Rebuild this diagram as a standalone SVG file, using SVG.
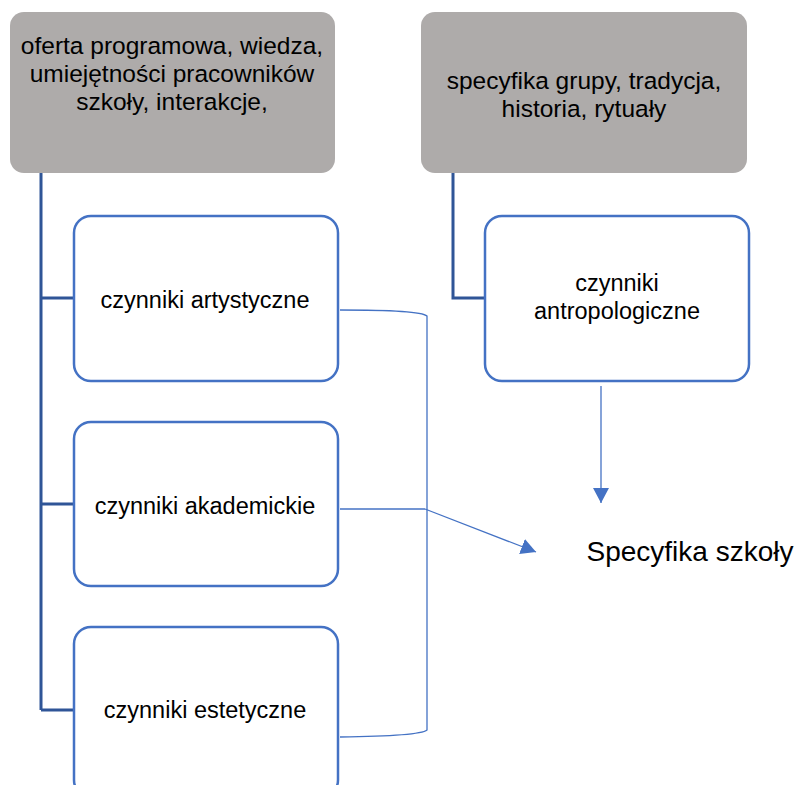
<svg xmlns="http://www.w3.org/2000/svg" width="794" height="785" viewBox="0 0 794 785">
<defs>
<style>
.gray{fill:#AEABAA;stroke:none}
.box{fill:#FFFFFF;stroke:#4472C4;stroke-width:2.5}
.t{font-family:"Liberation Sans",Arial,sans-serif;fill:#000;text-anchor:middle}
.thick{fill:none;stroke:#2F5597;stroke-width:3}
.thin{fill:none;stroke:#4472C4;stroke-width:1.3}
</style>
<marker id="ah" viewBox="0 0 15 16" refX="15" refY="8" markerWidth="15" markerHeight="16" markerUnits="userSpaceOnUse" orient="auto">
<path d="M0,0 L15,8 L0,16 z" fill="#4472C4"/>
</marker>
</defs>
<rect width="794" height="785" fill="#FFFFFF"/>
<g id="connectors">
<path class="thick" d="M41,173 V710 M41,298 H73 M41,504 H73 M41,710 H73"/>
<path class="thick" d="M453,173 V298 H484"/>
<path class="thin" d="M340,310 Q420,310 427,316 V730 Q420,736 340,737"/>
<path class="thin" d="M340,509 H425"/>
<path class="thin" d="M425,509 L536,552" marker-end="url(#ah)"/>
<path class="thin" d="M601,386 V503" marker-end="url(#ah)"/>
</g>
<g id="n1">
<rect class="gray" x="10" y="12" width="325" height="161" rx="14"/>
<text class="t" font-size="24.5"><tspan x="172" y="54">oferta programowa, wiedza,</tspan><tspan x="172" y="82">umiejętności pracowników</tspan><tspan x="172" y="110">szkoły, interakcje,</tspan></text>
</g>
<g id="n2">
<rect class="gray" x="421" y="12" width="326" height="161" rx="14"/>
<text class="t" font-size="24.5"><tspan x="584" y="89">specyfika grupy, tradycja,</tspan><tspan x="584" y="117">historia, rytuały</tspan></text>
</g>
<g id="n3">
<rect class="box" x="74" y="216" width="264" height="165" rx="17"/>
<text class="t" font-size="23.5" x="205" y="308">czynniki artystyczne</text>
</g>
<g id="n4">
<rect class="box" x="74" y="422" width="264" height="164" rx="17"/>
<text class="t" font-size="23.5" x="205" y="514">czynniki akademickie</text>
</g>
<g id="n5">
<rect class="box" x="74" y="627" width="264" height="170" rx="17"/>
<text class="t" font-size="23.5" x="205" y="718">czynniki estetyczne</text>
</g>
<g id="n6">
<rect class="box" x="485" y="216" width="264" height="165" rx="17"/>
<text class="t" font-size="23.5"><tspan x="617" y="291">czynniki</tspan><tspan x="617" y="319">antropologiczne</tspan></text>
</g>
<g id="n7">
<text class="t" font-size="28" x="690" y="561">Specyfika szkoły</text>
</g>
</svg>
